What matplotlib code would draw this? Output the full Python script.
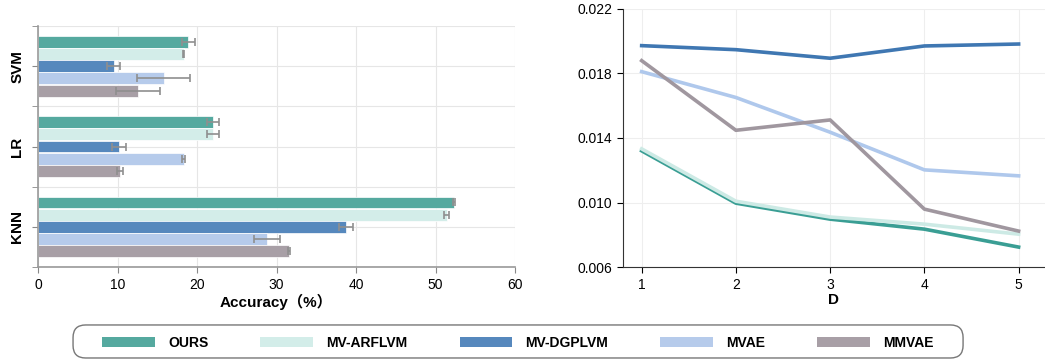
import numpy as np
import matplotlib.pyplot as plt
from matplotlib.patches import Patch, FancyBboxPatch

plt.rcParams['font.family'] = ['Liberation Sans', 'Noto Sans CJK SC', 'DejaVu Sans']

methods = ['OURS', 'MV-ARFLVM', 'MV-DGPLVM', 'MVAE', 'MMVAE']
bar_colors = ['#55A99F', '#D3EDE9', '#5688BD', '#B6CBEB', '#A89FA6']
line_colors = ['#3A9E94', '#CDEAE5', '#3F77B2', '#AFC8EC', '#A0979F']

classifiers = ['SVM', 'LR', 'KNN']
# accuracy (%) per classifier, one list per method
acc = {
    'OURS':      [18.9, 22.0, 52.3],
    'MV-ARFLVM': [18.3, 22.0, 51.4],
    'MV-DGPLVM': [9.5, 10.2, 38.7],
    'MVAE':      [15.8, 18.3, 28.8],
    'MMVAE':     [12.6, 10.3, 31.6],
}
acc_err = {
    'OURS':      [0.85, 0.7, 0.1],
    'MV-ARFLVM': [0.1, 0.8, 0.3],
    'MV-DGPLVM': [0.8, 0.9, 0.9],
    'MVAE':      [3.35, 0.2, 1.65],
    'MMVAE':     [2.8, 0.4, 0.15],
}

D = [1, 2, 3, 4, 5]
loss = {
    'OURS':      [0.0132, 0.00996, 0.00897, 0.00835, 0.00724],
    'MV-ARFLVM': [0.01332, 0.01008, 0.0091, 0.00866, 0.00804],
    'MV-DGPLVM': [0.01971, 0.01946, 0.01893, 0.01969, 0.01981],
    'MVAE':      [0.0181, 0.0165, 0.01435, 0.01202, 0.01165],
    'MMVAE':     [0.01878, 0.01447, 0.01511, 0.00959, 0.00823],
}

fig = plt.figure(figsize=(10.45, 3.6), dpi=100)

# ---- left: grouped horizontal bars
ax1 = fig.add_axes([0.0364, 0.258, 0.4565, 0.670])
centers = np.array([2, 1, 0])  # SVM on top
step = 0.152
for i, m in enumerate(methods):
    y = centers + (2 - i) * step
    ax1.barh(y, acc[m], height=0.148, color=bar_colors[i], edgecolor='white',
             linewidth=0.5, zorder=2)
    ax1.errorbar(acc[m], y, xerr=acc_err[m], fmt='none', ecolor='#8f8f8f',
                 elinewidth=1.2, capsize=3, capthick=1.2, zorder=3)

ax1.set_xlim(0, 60)
ax1.set_ylim(-0.5, 2.5)
ax1.set_yticks(centers)
ax1.set_yticklabels(classifiers, rotation=90, va='center', fontweight='bold', fontsize=11)
ax1.set_yticks([-0.5, 0.5, 1.5, 2.5], minor=True)
ax1.tick_params(axis='y', which='both', length=4, color='#888888', pad=6)
ax1.tick_params(axis='x', length=4, color='#888888', labelsize=10)
ax1.grid(True, which='both', color='#e6e6e6', linewidth=0.8, zorder=0)
ax1.set_axisbelow(True)
for s in ['top', 'right']:
    ax1.spines[s].set_visible(False)
for s in ['left', 'bottom']:
    ax1.spines[s].set_color('#999999')
    ax1.spines[s].set_linewidth(1.2)
ax1.set_xlabel('Accuracy（%）', fontweight='bold', fontsize=11, labelpad=2)

# ---- right: loss vs D
ax2 = fig.add_axes([0.596, 0.258, 0.404, 0.718])
for i, m in enumerate(methods):
    ax2.plot(D, loss[m], color=line_colors[i], linewidth=2.6, zorder=3)
ax2.set_xlim(0.8, 5.28)
ax2.set_ylim(0.006, 0.022)
ax2.set_yticks([0.006, 0.010, 0.014, 0.018, 0.022])
ax2.set_yticklabels(['0.006', '0.010', '0.014', '0.018', '0.022'])
ax2.set_xticks(D)
ax2.tick_params(labelsize=10, length=4)
ax2.grid(True, color='#eeeeee', linewidth=0.8)
ax2.set_axisbelow(True)
for s in ['top', 'right']:
    ax2.spines[s].set_visible(False)
for s in ['left', 'bottom']:
    ax2.spines[s].set_color('#333333')
ax2.set_xlabel('D', fontweight='bold', fontsize=11, labelpad=1)

# ---- shared legend (frame drawn separately for wider side padding)
handles = [Patch(facecolor=c, edgecolor='none') for c in bar_colors]
fig.legend(handles, methods, loc='center', bbox_to_anchor=(0.4957, 0.0472),
           ncol=5, frameon=False, handlelength=3.8, handleheight=0.75,
           columnspacing=3.75, handletextpad=0.95,
           prop={'weight': 'bold', 'size': 10}, borderpad=0, borderaxespad=0)
frame = FancyBboxPatch((0.0699, 0.0056), 0.8517, 0.0917,
                       boxstyle='round,pad=0,rounding_size=0.012',
                       transform=fig.transFigure, facecolor='white',
                       edgecolor='#777777', linewidth=1.0, zorder=-1,
                       mutation_aspect=2.9)
fig.patches.append(frame)

fig.savefig('out.png', dpi=100)
